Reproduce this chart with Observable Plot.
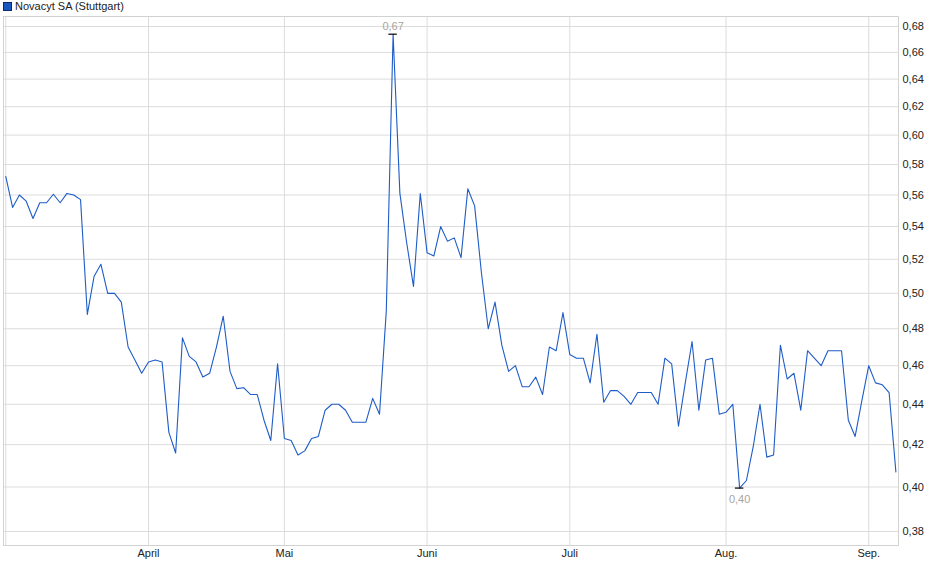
<!DOCTYPE html>
<html>
<head>
<meta charset="utf-8">
<script src="https://cdn.jsdelivr.net/npm/d3@7"></script>
<script src="https://cdn.jsdelivr.net/npm/@observablehq/plot@0.6"></script>
<style>
  html, body { margin: 0; padding: 0; background: #fff; overflow: hidden; }
  #legend { position: relative; height: 14px; font: 11px "Liberation Sans", Arial, sans-serif; color: #222; }
  #legend .sw { position: absolute; left: 3px; top: 2px; width: 7px; height: 7px; background: #1a56c0; border: 1px solid #0f2a66; }
  #legend .lb { position: absolute; left: 15px; top: 0px; line-height: 13px; white-space: nowrap; }
  #chart svg { display: block; }
</style>
</head>
<body>
<div id="legend"><span class="sw"></span><span class="lb">Novacyt SA (Stuttgart)</span></div>
<div id="chart"></div>
<script>
// Daily closing prices (trading days), Novacyt SA (Stuttgart)
const prices = [
  0.572, 0.552, 0.560, 0.556, 0.545, 0.555, 0.555, 0.5605, 0.555, 0.561,
  0.560, 0.557, 0.488, 0.510, 0.517, 0.500, 0.500, 0.495, 0.470, 0.463,
  0.456, 0.462, 0.463, 0.462, 0.426, 0.416, 0.475, 0.465, 0.462, 0.454,
  0.456, 0.470, 0.487, 0.457, 0.448, 0.4485, 0.445, 0.445, 0.432, 0.422,
  0.461, 0.423, 0.422, 0.415, 0.417, 0.423, 0.424, 0.437, 0.440, 0.440,
  0.437, 0.431, 0.431, 0.431, 0.443, 0.435, 0.490, 0.674, 0.561, 0.530,
  0.504, 0.561, 0.524, 0.522, 0.540, 0.531, 0.533, 0.521, 0.564, 0.553,
  0.512, 0.480, 0.495, 0.471, 0.457, 0.460, 0.449, 0.449, 0.454, 0.445,
  0.470, 0.468, 0.489, 0.466, 0.464, 0.464, 0.451, 0.477, 0.441, 0.447,
  0.447, 0.444, 0.440, 0.446, 0.446, 0.446, 0.440, 0.464, 0.461, 0.429,
  0.451, 0.473, 0.437, 0.463, 0.464, 0.435, 0.436, 0.440, 0.3995, 0.403,
  0.419, 0.440, 0.414, 0.415, 0.471, 0.453, 0.456, 0.437, 0.468, 0.464,
  0.460, 0.468, 0.468, 0.468, 0.432, 0.424, 0.442, 0.460, 0.451, 0.450,
  0.446, 0.407
];

// Month labels and the trading-day index of each month's first session
const monthLabels = ["April", "Mai", "Juni", "Juli", "Aug.", "Sep."];
const monthStartIdx = [21, 41, 62, 83, 106, 127];

// Y tick values
const yTicks = [0.38, 0.40, 0.42, 0.44, 0.46, 0.48, 0.50, 0.52, 0.54, 0.56, 0.58, 0.60, 0.62, 0.64, 0.66, 0.68];

const fmt = v => v.toFixed(2).replace(".", ",");

const series = prices.map((v, i) => ({i, v}));
const peakIdx = d3.maxIndex(prices);
const minIdx = d3.minIndex(prices);
const peak = [{i: peakIdx, v: prices[peakIdx]}];
const low = [{i: minIdx, v: prices[minIdx]}];

const chart = Plot.plot({
  width: 940,
  height: 565,
  marginTop: 2,
  marginBottom: 34,
  marginLeft: 3,
  marginRight: 42,
  style: {fontFamily: "'Liberation Sans', Arial, sans-serif", fontSize: "11px", color: "#222", background: "#fff"},
  x: {domain: [-0.3385, 131.383]},
  y: {type: "log", domain: [0.37392, 0.68788]},
  marks: [
    Plot.ruleY(yTicks, {stroke: "#dcdcdc", strokeWidth: 1}),
    Plot.ruleX([0, ...monthStartIdx], {stroke: "#dcdcdc", strokeWidth: 1}),
    Plot.frame({stroke: "#d2d2d2"}),
    Plot.axisY(yTicks, {anchor: "right", tickSize: 0, tickPadding: 4, tickFormat: fmt, label: null, fill: "#222"}),
    Plot.axisX(monthStartIdx, {anchor: "bottom", tickSize: 0, tickPadding: 4, tickFormat: d => monthLabels[monthStartIdx.indexOf(d)], label: null, fill: "#222"}),
    Plot.line(series, {x: "i", y: "v", stroke: "#1e5cc8", strokeWidth: 1.1}),
    Plot.ruleY(peak, {x1: d => d.i - 0.62, x2: d => d.i + 0.62, y: "v", stroke: "#000", strokeWidth: 1.2}),
    Plot.ruleY(low, {x1: d => d.i - 0.62, x2: d => d.i + 0.62, y: "v", stroke: "#000", strokeWidth: 1.2}),
    Plot.text(peak, {x: "i", y: "v", text: d => fmt(d.v), dy: -8, fill: "#aaa59c", fontSize: 11}),
    Plot.text(low, {x: "i", y: "v", text: d => fmt(d.v), dy: 11, fill: "#aaa59c", fontSize: 11})
  ]
});
document.getElementById("chart").appendChild(chart);
</script>
</body>
</html>
